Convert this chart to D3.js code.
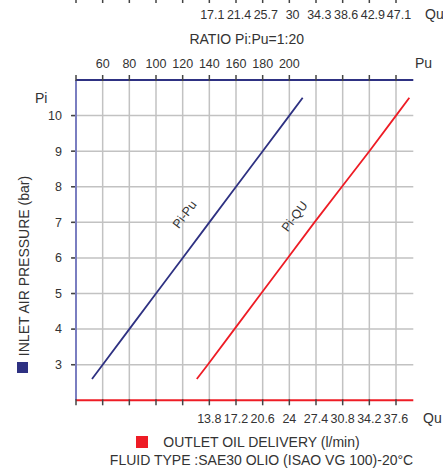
<!DOCTYPE html>
<html><head><meta charset="utf-8">
<script src="https://cdn.jsdelivr.net/npm/d3@7"></script>
<style>
body{margin:0;background:#fff;}
text{font-family:"Liberation Sans",Arial,sans-serif;fill:#333;}
</style></head>
<body><svg id="c" width="443" height="468"></svg>
<script>
// ---- data ----
const puGrid = [40,60,80,100,120,140,160,180,200,220,240,260,280];
const puTickLabels = [60,80,100,120,140,160,180,200];
const quTopLabels = [17.1,21.4,25.7,30,34.3,38.6,42.9,47.1];
const quBottomLabels = [13.8,17.2,20.6,24,27.4,30.8,34.2,37.6];
const piTicks = [3,4,5,6,7,8,9,10];
// Pi-Pu curve (Pi bar, Pu bar)
const piPuPi = [2.6,3,4,5,6,7,8,9,10,10.5];
const piPuPu = [52,60,80,100,120,140,160,180,200,210];
// Pi-Qu curve (Pi bar, Qu l/min)
const piQuPi = [2.6,3,4,5,6,7,8,9,10,10.5];
const piQuQu = [12.2,13.6,17.0,20.4,23.8,27.2,30.7,34.2,37.6,39.3];

const navy = "#2e3182", red = "#ee1c25", grid = "#c2c2c2";
const svg = d3.select("#c");
const L = 76, R = 413.3, T = 80, B = 400.3;

const x = d3.scaleLinear().domain([40,200]).range([L, L + 8*26.667]);
const xQb = d3.scaleLinear().domain([13.8,37.6]).range([x(140), x(280)]);
const xQt = d3.scaleLinear().domain([17.1,47.1]).range([x(140), x(280)]);
const y = d3.scaleLinear().domain([2,11]).range([B, T]);

// grid
svg.append("g").selectAll("line").data(puGrid.slice(1)).join("line")
  .attr("x1", d=>x(d)).attr("x2", d=>x(d)).attr("y1", T).attr("y2", B)
  .attr("stroke", grid).attr("stroke-width", 1.5);
svg.append("g").selectAll("line").data(piTicks).join("line")
  .attr("x1", L-4).attr("x2", R).attr("y1", d=>y(d)).attr("y2", d=>y(d))
  .attr("stroke", grid).attr("stroke-width", 1.5);
// y tick stubs
svg.append("g").selectAll("line").data(piTicks).join("line")
  .attr("x1", L-5).attr("x2", L).attr("y1", d=>y(d)).attr("y2", d=>y(d))
  .attr("stroke", "#444").attr("stroke-width", 1.5);

// axes lines
svg.append("line").attr("x1", L).attr("x2", L).attr("y1", T).attr("y2", B)
  .attr("stroke", "#7a7ec0").attr("stroke-width", 2);
svg.append("line").attr("x1", L).attr("x2", R).attr("y1", T).attr("y2", T)
  .attr("stroke", navy).attr("stroke-width", 2);
svg.append("line").attr("x1", L).attr("x2", R).attr("y1", B).attr("y2", B)
  .attr("stroke", red).attr("stroke-width", 2);

// tick marks top / bottom / cropped top
svg.append("g").selectAll("line").data(puGrid).join("line")
  .attr("x1", d=>x(d)).attr("x2", d=>x(d)).attr("y1", T-5).attr("y2", T+1)
  .attr("stroke", "#444").attr("stroke-width", 1.5);
svg.append("g").selectAll("line").data(puGrid).join("line")
  .attr("x1", d=>x(d)).attr("x2", d=>x(d)).attr("y1", B-1).attr("y2", B+5)
  .attr("stroke", "#444").attr("stroke-width", 1.5);
svg.append("g").selectAll("line").data(puGrid).join("line")
  .attr("x1", d=>x(d)).attr("x2", d=>x(d)).attr("y1", -2).attr("y2", 3)
  .attr("stroke", "#444").attr("stroke-width", 1.5);

// tick labels
svg.append("g").selectAll("text").data(puTickLabels).join("text")
  .attr("x", d=>x(d)).attr("y", 68).attr("text-anchor","middle")
  .attr("font-size", 12.5).text(d=>d);
svg.append("g").selectAll("text").data(quTopLabels).join("text")
  .attr("x", d=>xQt(d)+3).attr("y", 19).attr("text-anchor","middle")
  .attr("font-size", 12.5).text(d=>d);
svg.append("g").selectAll("text").data(quBottomLabels).join("text")
  .attr("x", d=>xQb(d)).attr("y", 423).attr("text-anchor","middle")
  .attr("font-size", 12.5).text(d=>d);
svg.append("g").selectAll("text").data(piTicks).join("text")
  .attr("x", 62).attr("y", d=>y(d)).attr("dy","0.35em").attr("text-anchor","end")
  .attr("font-size", 12.5).text(d=>d);

// axis names
svg.append("text").attr("x", 415).attr("y", 68).attr("font-size", 14).text("Pu");
svg.append("text").attr("x", 425).attr("y", 19).attr("font-size", 14).text("Qu");
svg.append("text").attr("x", 423).attr("y", 423).attr("font-size", 14).text("Qu");
svg.append("text").attr("x", 35).attr("y", 103).attr("font-size", 14).text("Pi");
svg.append("text").attr("x", 246.7).attr("y", 44).attr("text-anchor","middle")
  .attr("font-size", 14).text("RATIO Pi:Pu=1:20");
svg.append("text").attr("transform","translate(29,266) rotate(-90)")
  .attr("text-anchor","middle").attr("font-size", 14).text("INLET AIR PRESSURE (bar)");
svg.append("rect").attr("x",17).attr("y",362).attr("width",11).attr("height",11).attr("fill",navy);
svg.append("rect").attr("x",136).attr("y",436).attr("width",12).attr("height",12).attr("fill",red);
svg.append("text").attr("x", 261.5).attr("y", 447).attr("text-anchor","middle")
  .attr("font-size", 14).text("OUTLET OIL DELIVERY (l/min)");
svg.append("text").attr("x", 261.5).attr("y", 464.5).attr("text-anchor","middle")
  .attr("font-size", 14).text("FLUID TYPE :SAE30 OLIO (ISAO VG 100)-20°C");

// curves
const lineA = d3.line().x(d=>x(d[1])).y(d=>y(d[0]));
svg.append("path").datum(piPuPi.map((p,i)=>[p, piPuPu[i]]))
  .attr("d", lineA).attr("fill","none").attr("stroke", navy).attr("stroke-width", 1.8);
const lineB = d3.line().x(d=>xQb(d[1])).y(d=>y(d[0]));
svg.append("path").datum(piQuPi.map((p,i)=>[p, piQuQu[i]]))
  .attr("d", lineB).attr("fill","none").attr("stroke", red).attr("stroke-width", 1.8);

// curve labels
svg.append("text").attr("transform","translate(188,217) rotate(-53)")
  .attr("text-anchor","middle").attr("font-size", 12.5).text("Pi-Pu");
svg.append("text").attr("transform","translate(298,219) rotate(-53)")
  .attr("text-anchor","middle").attr("font-size", 12.5).text("Pi-QU");
</script></body></html>
